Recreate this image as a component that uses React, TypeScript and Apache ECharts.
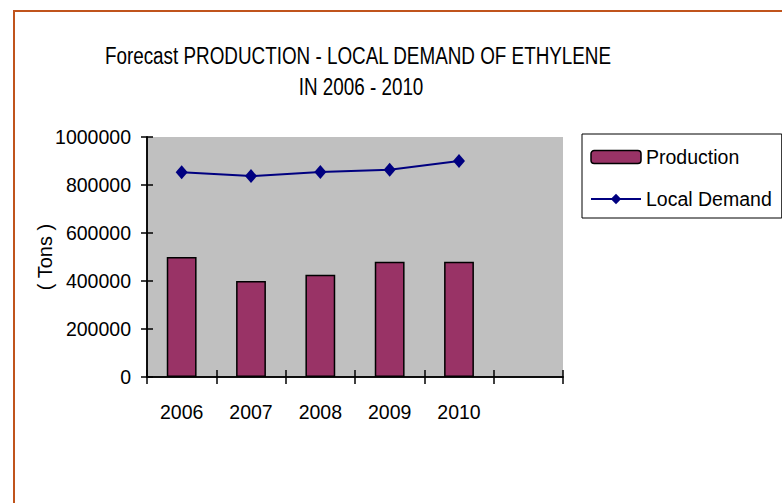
import React, { useEffect, useRef } from "react";
import * as echarts from "echarts";

const categories = ["2006", "2007", "2008", "2009", "2010", ""];
const production = [500000, 400000, 426000, 480000, 480000];
const localDemand = [853000, 837000, 854000, 864000, 900000];
const titleLines = ["Forecast PRODUCTION - LOCAL DEMAND OF ETHYLENE", "IN 2006 - 2010"];
const yAxisTitle = "( Tons )";

const FONT = "'Liberation Sans', Arial, sans-serif";
const LABEL_SIZE = 19.5;

export default function App() {
  const ref = useRef<HTMLDivElement>(null);
  useEffect(() => {
    if (!ref.current) return;
    const chart = echarts.init(ref.current, null, { renderer: "svg" });
    const axisLine = { show: true, lineStyle: { color: "#000", width: 1.5 } };
    const tickStyle = { color: "#000", width: 1.5 };
    chart.setOption({
      animation: false,
      backgroundColor: "#fff",
      grid: {
        left: 147,
        top: 137,
        right: 219,
        bottom: 126,
        show: true,
        backgroundColor: "#c0c0c0",
        borderWidth: 0,
      },
      graphic: [
        {
          type: "rect",
          shape: { x: 14, y: 11, width: 820, height: 560 },
          style: { fill: "none", stroke: "#c0541c", lineWidth: 2 },
          silent: true,
        },
        {
          type: "text",
          x: 358,
          y: 56,
          scaleX: 0.82,
          style: {
            text: titleLines[0],
            align: "center",
            verticalAlign: "middle",
            font: `23px ${FONT}`,
            fill: "#000",
          },
        },
        {
          type: "text",
          x: 361,
          y: 87,
          scaleX: 0.82,
          style: {
            text: titleLines[1],
            align: "center",
            verticalAlign: "middle",
            font: `23px ${FONT}`,
            fill: "#000",
          },
        },
        {
          type: "text",
          x: 45,
          y: 257,
          rotation: Math.PI / 2,
          style: {
            text: yAxisTitle,
            align: "center",
            verticalAlign: "middle",
            font: `20px ${FONT}`,
            fill: "#000",
          },
        },
      ],
      legend: {
        orient: "vertical",
        left: 582,
        top: 134,
        padding: [11, 10, 7, 8],
        borderColor: "#000",
        borderWidth: 1,
        itemWidth: 50,
        itemHeight: 13,
        itemGap: 18,
        textStyle: { fontFamily: FONT, fontSize: LABEL_SIZE, color: "#000", lineHeight: 24 },
        data: [
          { name: "Production", itemStyle: { borderColor: "#000", borderWidth: 1.5 } },
          { name: "Local Demand" },
        ],
      },
      xAxis: [
        {
          type: "category",
          data: categories,
          position: "bottom",
          axisLine,
          axisTick: { show: true, inside: false, length: 7, lineStyle: tickStyle },
          axisLabel: { color: "#000", fontFamily: FONT, fontSize: LABEL_SIZE, margin: 25 },
          splitLine: { show: false },
        },
        {
          type: "category",
          data: categories,
          position: "bottom",
          axisLine,
          axisTick: { show: true, inside: true, length: 7, lineStyle: tickStyle },
          axisLabel: { show: false },
          splitLine: { show: false },
        },
      ],
      yAxis: [
        {
          type: "value",
          min: 0,
          max: 1000000,
          interval: 200000,
          position: "left",
          axisLine,
          axisTick: { show: true, inside: false, length: 6, lineStyle: tickStyle },
          axisLabel: {
            color: "#000",
            fontFamily: FONT,
            fontSize: LABEL_SIZE,
            margin: 16,
            formatter: (v: number) => String(v),
          },
          splitLine: { show: false },
        },
        {
          type: "value",
          min: 0,
          max: 1000000,
          interval: 200000,
          position: "left",
          axisLine,
          axisTick: { show: true, inside: true, length: 6, lineStyle: tickStyle },
          axisLabel: { show: false },
          splitLine: { show: false },
        },
      ],
      series: [
        {
          name: "Production",
          type: "bar",
          xAxisIndex: 0,
          yAxisIndex: 0,
          data: production,
          barWidth: "43%",
          itemStyle: { color: "#993366", borderColor: "#000", borderWidth: 1.5 },
        },
        {
          name: "Local Demand",
          type: "line",
          xAxisIndex: 0,
          yAxisIndex: 0,
          data: localDemand,
          symbol: "diamond",
          symbolSize: [12, 14],
          lineStyle: { color: "#000080", width: 2 },
          itemStyle: { color: "#000080" },
        },
      ],
    });
    return () => chart.dispose();
  }, []);
  return (
    <div
      ref={ref}
      style={{ position: "absolute", left: 0, top: 0, width: 782, height: 503, background: "#fff" }}
    />
  );
}
